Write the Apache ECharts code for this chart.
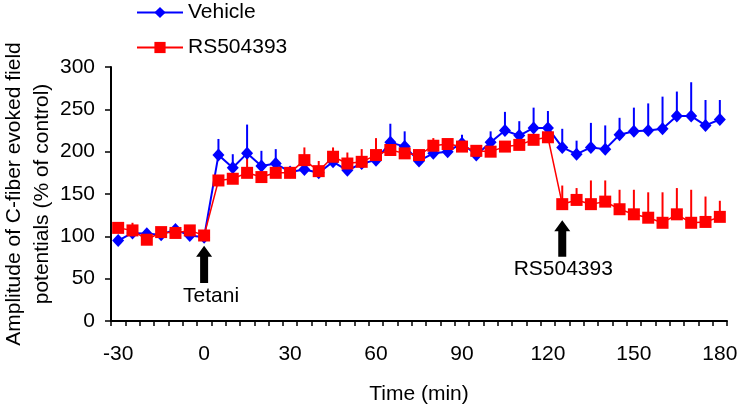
<!DOCTYPE html>
<html><head><meta charset="utf-8">
<script src="https://cdn.jsdelivr.net/npm/echarts@6/dist/echarts.min.js"></script>
<style>html,body{margin:0;padding:0;background:#fff}#c{width:742px;height:408px}</style>
</head><body><div id="c"></div>
<script>
// Time points (min), one every 5 min
const times = ['-30','-25','-20','-15','-10','-5','0','5','10','15','20','25','30','35','40','45','50','55','60','65','70','75','80','85','90','95','100','105','110','115','120','125','130','135','140','145','150','155','160','165','170','175','180'];
// Vehicle mean and upper error (SEM)
const vehicle = [95,104,103,102,108,101,99,196,181,198,183,186,176,179,175,188,178,186,190,211,206,189,198,200,210,196,211,225,219,228,228,205,197,205,203,220,224,225,227,242,242,231,238];
const vehicleErr = [4,5,4,3,4,3,3,19,16,34,18,17,6,5,5,6,5,5,6,22,18,6,6,6,10,5,13,22,17,24,20,22,16,29,28,20,28,32,38,29,40,30,23];
// RS504393 mean and upper error (SEM)
const rs504393 = [110,107,96,105,104,107,101,166,168,175,170,175,175,190,177,194,186,188,196,202,198,196,207,209,206,201,200,206,208,214,217,138,143,138,141,132,126,122,116,126,116,117,123];
const rs504393Err = [3,9,4,3,4,3,3,5,5,22,5,5,5,15,12,11,13,15,20,6,5,5,9,5,5,5,5,5,5,5,5,22,14,28,25,23,29,30,36,31,39,30,19];
// Annotation arrows: time, arrow tip value, arrow base value, label
const arrowTime = ['0','125'];
const arrowTop = [89,119];
const arrowBottom = [45,76];
const arrowText = ['Tetani','RS504393'];

const FONT = "'Liberation Sans', Arial, sans-serif";
const chart = echarts.init(document.getElementById('c'));

function errSeries(name, vals, errs, color) {
  return {
    type: 'custom', name: name + ' err', silent: true,
    data: vals.map((v, i) => [i, v, errs[i]]),
    encode: { x: 0, y: 1 },
    renderItem: function (params, api) {
      const x = api.value(0), y = api.value(1), e = api.value(2);
      const p1 = api.coord([x, y]);
      const p2 = api.coord([x, y + e]);
      return { type: 'line', shape: { x1: p1[0], y1: p1[1], x2: p2[0], y2: p2[1] },
               style: { stroke: color, lineWidth: 2 } };
    }
  };
}

const arrowData = arrowTime.map((t, i) => [times.indexOf(t), arrowTop[i], arrowBottom[i], i]);

chart.setOption({
  animation: false,
  backgroundColor: '#fff',
  textStyle: { fontFamily: FONT },
  grid: { left: 111, right: 15, top: 67, bottom: 87, containLabel: false, outerBoundsMode: 'none' },
  legend: {
    orient: 'vertical', left: 131, top: -3,
    itemWidth: 46, itemHeight: 14, itemGap: 14,
    textStyle: { fontFamily: FONT, fontSize: 21, color: '#000' },
    data: ['Vehicle', 'RS504393']
  },
  xAxis: {
    type: 'category', data: times, boundaryGap: true,
    name: 'Time (min)', nameLocation: 'middle', nameGap: 63, nameMoveOverlap: false,
    nameTextStyle: { fontFamily: FONT, fontSize: 21, color: '#000' },
    axisLine: { lineStyle: { color: '#000', width: 2 } },
    axisTick: { show: true, interval: 0, length: 5, lineStyle: { color: '#000', width: 1.5 } },
    axisLabel: { interval: 5, margin: 23, fontFamily: FONT, fontSize: 21, color: '#000' },
    splitLine: { show: false }
  },
  yAxis: {
    type: 'value', min: 0, max: 300, interval: 50,
    name: 'Amplitude of C-fiber evoked field\npotentials (% of control)',
    nameLocation: 'middle', nameGap: 55, nameRotate: 90, nameMoveOverlap: false,
    nameTextStyle: { fontFamily: FONT, fontSize: 21, color: '#000', lineHeight: 28 },
    axisLine: { show: true, lineStyle: { color: '#000', width: 2 } },
    axisTick: { show: true, length: 6, lineStyle: { color: '#000', width: 1.5 } },
    axisLabel: { margin: 16, fontFamily: FONT, fontSize: 21, color: '#000' },
    splitLine: { show: false }
  },
  series: [
    errSeries('Vehicle', vehicle, vehicleErr, '#0000ff'),
    {
      name: 'Vehicle', type: 'line', data: vehicle,
      symbol: 'diamond', symbolSize: [12, 13], showAllSymbol: true,
      lineStyle: { color: '#0000ff', width: 2 },
      itemStyle: { color: '#0000ff' }
    },
    errSeries('RS504393', rs504393, rs504393Err, '#ff0000'),
    {
      name: 'RS504393', type: 'line', data: rs504393,
      symbol: 'rect', symbolSize: 12, showAllSymbol: true,
      lineStyle: { color: '#ff0000', width: 1.5 },
      itemStyle: { color: '#ff0000' }
    },
    {
      type: 'custom', name: 'annotations', silent: true,
      data: arrowData, encode: { x: 0, y: 1 },
      renderItem: function (params, api) {
        const x = api.value(0);
        const tip = api.coord([x, api.value(1)]);
        const base = api.coord([x, api.value(2)]);
        const k = api.value(3);
        const hw = 8, sw = 4, hh = 11;
        const tx = tip[0], ty = tip[1], by = base[1];
        return {
          type: 'group',
          children: [
            { type: 'polygon', shape: { points: [[tx, ty], [tx + hw, ty + hh], [tx + sw, ty + hh], [tx + sw, by], [tx - sw, by], [tx - sw, ty + hh], [tx - hw, ty + hh]] },
              style: { fill: '#000' } },
            { type: 'text', x: tx + (k === 0 ? 7 : 1), y: by + 13,
              style: { text: arrowText[k], fontFamily: FONT, fontSize: 21, fill: '#000', align: 'center', verticalAlign: 'middle' } }
          ]
        };
      }
    }
  ]
});
</script>
</body></html>
